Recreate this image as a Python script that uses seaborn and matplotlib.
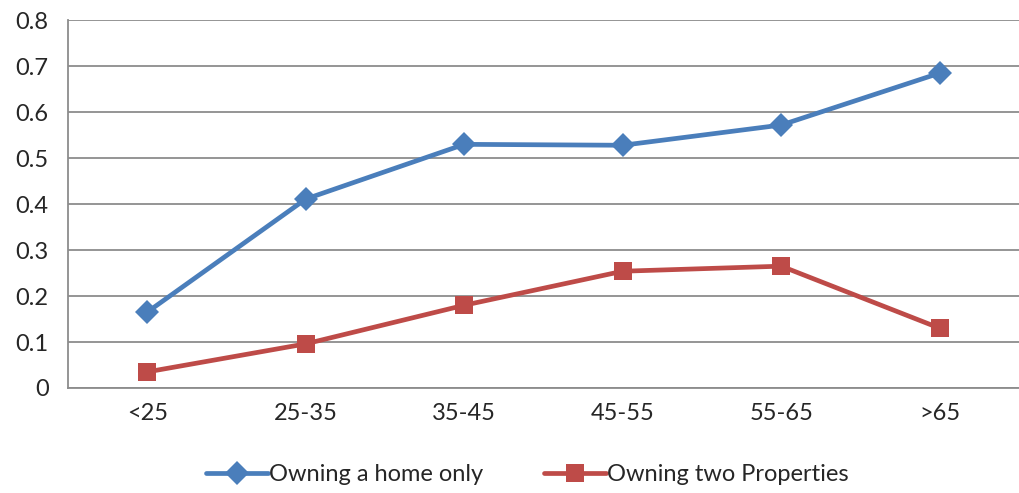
import matplotlib
matplotlib.use("Agg")
import matplotlib.pyplot as plt
from matplotlib.ticker import FixedLocator
import seaborn as sns
import pandas as pd

age_groups = ["<25", "25-35", "35-45", "45-55", "55-65", ">65"]
home_only = [0.165, 0.411, 0.530, 0.528, 0.572, 0.685]
two_properties = [0.035, 0.096, 0.180, 0.254, 0.265, 0.130]
series_names = ["Owning a home only", "Owning two Properties"]
y_ticks = [0, 0.1, 0.2, 0.3, 0.4, 0.5, 0.6, 0.7, 0.8]
y_labels = ["0", "0.1", "0.2", "0.3", "0.4", "0.5", "0.6", "0.7", "0.8"]

df = pd.DataFrame({
    "age": age_groups * 2,
    "pos": list(range(len(age_groups))) * 2,
    "value": home_only + two_properties,
    "series": [series_names[0]] * len(age_groups) + [series_names[1]] * len(age_groups),
})

sns.set_theme(style="white")
plt.rcParams["font.family"] = ["Lato", "DejaVu Sans"]

fig = plt.figure(figsize=(10.19, 4.93), dpi=100)
ax = fig.add_axes([0.0667, 0.213, 0.9333, 0.746])

palette = {series_names[0]: "#4A7EBB", series_names[1]: "#BE4B48"}
sns.lineplot(data=df, x="pos", y="value", hue="series", style="series",
             markers={series_names[0]: "D", series_names[1]: "s"},
             dashes=False, palette=palette, linewidth=3.4,
             markersize=12.5, markeredgewidth=0, ax=ax, legend=True)

grid_color = "#8C8C8C"
fs = 17
ax.set_xlim(-0.5, len(age_groups) - 0.5)
ax.set_ylim(0, 0.8)
ax.set_yticks(y_ticks)
ax.set_yticklabels(y_labels, fontsize=fs)
ax.yaxis.grid(True, color=grid_color, linewidth=1.3)
ax.set_axisbelow(True)

ax.xaxis.set_major_locator(FixedLocator(range(len(age_groups))))
ax.set_xticklabels(age_groups, fontsize=fs)
ax.xaxis.set_minor_locator(FixedLocator([i - 0.5 for i in range(len(age_groups) + 1)]))
ax.tick_params(axis="x", which="major", length=0, pad=11)
ax.tick_params(axis="x", which="minor", length=8, width=1.3, color=grid_color, direction="out")
ax.tick_params(axis="y", length=8, width=1.3, color=grid_color, direction="out", pad=6)
ax.set_xlabel("")
ax.set_ylabel("")

for side in ["top", "right"]:
    ax.spines[side].set_visible(False)
for side in ["left", "bottom"]:
    ax.spines[side].set_color(grid_color)
    ax.spines[side].set_linewidth(1.3)

handles, labels = ax.get_legend_handles_labels()
ax.legend(handles, labels, loc="lower center", bbox_to_anchor=(0.483, -0.29),
          ncol=2, frameon=False, fontsize=fs, handlelength=2.6,
          columnspacing=2.6, handletextpad=0.05, borderaxespad=0)

fig.savefig("out.png", dpi=100)
